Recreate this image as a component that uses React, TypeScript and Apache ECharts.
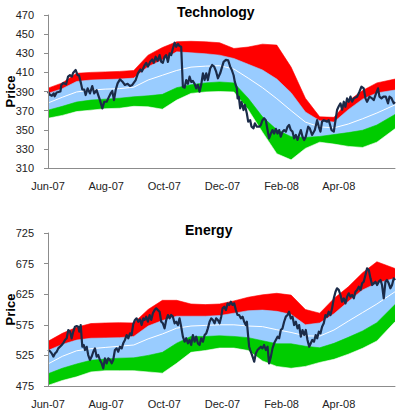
import React, { useEffect, useRef } from 'react';
import * as echarts from 'echarts';

// x positions are days since 1 Jun 2007
const xTickDays = [0, 61, 122, 183, 245, 305];
const xTickLabels = ['Jun-07', 'Aug-07', 'Oct-07', 'Dec-07', 'Feb-08', 'Apr-08'];
const techTicks = [310, 330, 350, 370, 390, 410, 430, 450, 470];
const energyTicks = [475, 525, 575, 625, 675, 725];

const bandDays = [0, 15, 30, 45, 60, 75, 90, 105, 120, 135, 150, 165, 180, 195, 210, 225, 240, 255, 270, 285, 300, 315, 330, 345, 364];

const techRedTop = [393.5, 399, 409, 410, 410.5, 411, 412, 428, 436, 442, 442.5, 442, 441, 435, 436.5, 439.5, 438.5, 415.5, 383, 363.5, 363, 380, 391, 399, 403];
const techBlueTop = [388, 393, 400.5, 402, 402.5, 403, 404, 416, 423, 431.5, 430.5, 429.5, 428, 424.5, 418.5, 412.5, 403, 388.7, 368.6, 359.5, 358, 371, 382, 388.5, 391.5];
const techMid = [378, 384, 389.5, 391.5, 392.5, 393, 394.5, 402, 407, 412, 415.5, 416.5, 417, 413.5, 404, 394, 382.5, 370, 358, 353, 352, 356, 361.5, 367.5, 376];
const techGreenTop = [370.5, 374.5, 379, 381, 382, 383, 384.5, 385.5, 387, 394, 397, 399, 400, 399, 383, 363.5, 350, 342.8, 342, 343, 345, 347, 349.5, 355, 366];
const techGreenBot = [362, 365, 369, 370.5, 372, 372.5, 374.5, 374, 371.5, 381, 388, 389.5, 390, 389.5, 371, 347.5, 325, 318.5, 330.5, 337, 335, 332.6, 331.5, 337, 351];

const energyRedTop = [548, 561, 571, 577, 578, 578.5, 578, 600, 615, 615, 609, 608, 609, 614, 620, 624, 626.5, 623.5, 600, 594, 618, 637, 660, 678, 667];
const energyBlueTop = [533, 543, 550, 553, 553.5, 554, 556, 573, 582, 589, 589, 589, 590, 594, 598, 599, 597, 592, 575, 578, 593, 613, 632, 643, 651];
const energyMid = [511, 523.5, 532.5, 536, 538, 540, 542, 552, 560, 569.5, 573, 574, 575, 575, 573, 572, 567, 562.5, 557, 556.5, 566.5, 581, 595, 609, 629];
const energyGreenTop = [495, 504, 511, 517, 519, 520.5, 521, 525, 530, 545, 556, 556, 557, 556, 554, 549, 544, 544, 540, 537.5, 544.7, 554.5, 565, 578.5, 608];
const energyGreenBot = [476, 484, 490, 498, 500, 500, 500, 498, 496, 512, 530, 533, 537, 537, 533, 516, 507, 504, 507, 513.5, 518.6, 527, 536.6, 548.5, 580];

const techPrice: [number, number][] = [
  [0, 389.8], [2, 386.5], [4, 385.5], [6, 388], [7, 385], [9, 389], [13, 390], [14, 396.8], [16, 399], [19, 397.5],
  [21, 405.5], [23, 407], [25, 405.5], [26.5, 409.7], [29, 412.5], [31, 407], [32.5, 407], [34.6, 398.5], [36, 392.2], [38, 392],
  [39.5, 386.3], [41.6, 393.3], [44, 388], [46.4, 395.7], [48.5, 388], [51, 391.5], [52.7, 386.3], [54.5, 381], [57, 372.4], [59, 379.3],
  [61.5, 379.3], [63.2, 382.8], [65.7, 388], [67.4, 390.5], [69.2, 381], [71, 391.5], [73, 398.5], [75.5, 402.7], [77.9, 400.5], [80.7, 396.8],
  [83.5, 398], [86, 395.7], [88.4, 396.8], [92, 402], [94.3, 409], [96.8, 413], [98.5, 411], [101.4, 417.7], [103, 420], [104.8, 416],
  [107.2, 421.2], [109.3, 423.6], [111, 420], [112.9, 426.4], [115, 422], [117.1, 428], [118.8, 421], [120.5, 420], [122.3, 426.4], [124, 428],
  [125.8, 421], [127.6, 430], [129.2, 428], [131, 435], [132.8, 441], [134.5, 436.8], [136.3, 439.7], [138, 437.5], [139.7, 436.8], [141.5, 395],
  [143.3, 394], [145, 402], [146.8, 398], [148.5, 405.5], [150.2, 400], [152, 401], [153.8, 398], [155.5, 393.3], [157.2, 397], [159, 389.8],
  [160.7, 397], [162.5, 409], [164.3, 402], [166, 409], [167.7, 402], [170.1, 414], [172.2, 417.7], [174.3, 416], [176.4, 410.7], [178.2, 403.8],
  [180.6, 409], [182.7, 416], [184.2, 421], [186.6, 423], [189, 422.5], [191.1, 416], [192.6, 413], [194.7, 407], [196, 400], [198.1, 393.3],
  [198.9, 382.8], [200.2, 384.5], [201.6, 372.4], [203, 379], [205.1, 370.6], [206.5, 376], [208.6, 367], [210, 358.5], [212.1, 360], [213.5, 353.2],
  [215.6, 351.5], [217, 356.7], [219.1, 353.2], [221.5, 353.2], [223.3, 355], [225, 360], [226.7, 362], [228.5, 360], [230.3, 349.7], [231.9, 341],
  [233.8, 346], [235.5, 349.7], [237.2, 346], [239, 351], [240.8, 346], [242.5, 349.7], [244.2, 342.7], [246, 348], [247.7, 349.7], [249.5, 348],
  [251.3, 353.2], [252.9, 355], [254.7, 349.7], [256.5, 348], [258.2, 341], [260, 344.5], [261.7, 339.3], [263.4, 344.5], [265.2, 349.7], [267, 342.7],
  [268.7, 339.3], [270.4, 342.7], [272.9, 353.2], [274.6, 351.5], [277, 344.5], [279.9, 349.7], [282.3, 360], [284.1, 353], [285.8, 348], [287.5, 358.5],
  [289.3, 360], [292.8, 358.5], [294.5, 360], [297.4, 349.7], [299.8, 348], [301.6, 360], [303.2, 370.6], [305, 374.5], [306.8, 377.6], [308.5, 371],
  [310.3, 379.3], [312, 374], [313.7, 382.8], [315.5, 379.3], [317.3, 384.6], [319, 379.3], [320.8, 382.8], [324.2, 384.6], [326.7, 389.8], [328.8, 395],
  [331.2, 393.3], [333, 382.8], [334.7, 379.3], [337.2, 384.6], [340, 382.8], [341.7, 381], [343.5, 386.3], [346.2, 393.3], [347.7, 384.6], [349.8, 382.8],
  [351.9, 384.6], [354.3, 384.6], [356.7, 377.6], [358.2, 384.6], [360.3, 383], [362.7, 377.6], [364, 379]
];

const energyPrice: [number, number][] = [
  [0, 534], [2, 532], [3.9, 528.3], [5.6, 523], [7.3, 528], [9.1, 531], [10.8, 536.5], [14.4, 542], [16, 545], [17.8, 550.2],
  [19.6, 553], [21.3, 566.5], [23.1, 564], [24.8, 552.8], [26.5, 564], [28.3, 571.9], [30.1, 573], [31.8, 571.9], [32.8, 563.8], [34.3, 574.6],
  [36, 539.2], [37.5, 542], [38.8, 533.8], [40.6, 539], [42.2, 525.6], [44, 517.5], [45.8, 523], [47.5, 531], [49.3, 536.5], [51, 523],
  [52.7, 525.6], [54.5, 517.5], [56.3, 512], [58, 503.8], [59.7, 520.2], [61.5, 512], [63.2, 520.2], [65, 517.5], [66.8, 512], [68.4, 517.5],
  [70.2, 533.8], [72, 536.5], [73.7, 531], [75.5, 539.2], [77.3, 536.5], [78.9, 544.7], [80.7, 550.2], [82.5, 558.3], [84.2, 553], [86, 561],
  [87.7, 558.3], [89.4, 576], [91.2, 582.8], [92.9, 585.5], [94.7, 580], [96.5, 584], [98.2, 574.6], [100, 585.5], [101.4, 583], [103, 588.3],
  [104.8, 580], [106.6, 591], [108.3, 583], [110, 593.7], [111.8, 599], [113.5, 601.9], [115.3, 599], [117.1, 596.4], [118.8, 580], [120.5, 577.4],
  [122.3, 569.2], [124, 582.8], [125.8, 591], [127.6, 585.5], [129.2, 591], [131, 588.3], [132.8, 577.4], [134.5, 580], [136.3, 574.6], [138, 585.5],
  [139.7, 572], [141.5, 555.6], [143.3, 547.4], [145, 553], [146.8, 544.7], [148.5, 550.2], [150.2, 542], [152, 558.3], [153.8, 547.4], [155.5, 555.6],
  [157.2, 544.7], [159, 542], [160.7, 553], [162.5, 547.4], [164.3, 558.3], [166, 561], [167.7, 569.2], [169.5, 580], [171.2, 585.5], [173, 582.8],
  [174.7, 577.4], [176.4, 585.5], [178.2, 582.8], [180, 577.4], [181.7, 588.3], [183.1, 601.9], [184.9, 604.6], [186.6, 599], [188.4, 610], [190.1, 607.4],
  [191.8, 612.8], [193.6, 607.4], [195.3, 610], [197.1, 599], [198.8, 591], [200.5, 591], [202.3, 585.5], [204.1, 588.3], [205.8, 580], [207.5, 574.6],
  [208.6, 580], [210, 555.6], [211, 539.2], [212.1, 533.8], [213.5, 528], [214.6, 522.9], [216.3, 514.7], [218, 528], [219.8, 533.8], [221.5, 536.5],
  [223.3, 539.2], [225, 536.5], [226.7, 542], [228.5, 533.8], [230.3, 539.2], [231.9, 512], [233.8, 523], [235.5, 536.5], [237.2, 544.7], [239, 550.2],
  [240.8, 555.6], [242.5, 553], [244.2, 566.5], [246, 569.2], [247.7, 580], [249.5, 588.3], [251.3, 591], [252.9, 596.4], [254.7, 585.5], [256.5, 588.3],
  [258.2, 574.6], [260, 580], [261.7, 569.2], [263.4, 574.6], [265.2, 555.6], [267, 566.5], [268.7, 558.3], [270.4, 566.5], [272.2, 550.2], [274, 539.2],
  [275.4, 544], [277.2, 550.2], [279, 547.4], [280.8, 558.3], [282.4, 553], [284.1, 563.8], [285.8, 561], [287.5, 571.9], [289.3, 577.4], [291, 591],
  [292.8, 588.3], [294.5, 596.4], [296.3, 591], [298, 601.9], [299.8, 618.2], [301.6, 629.1], [303.2, 634.6], [305, 632], [306.8, 623.7], [308.5, 612.8],
  [310.3, 618.2], [312, 610], [313.7, 621], [315.5, 626.4], [317.3, 621], [319, 623.7], [320.8, 618.2], [322.5, 629.1], [324.2, 632], [326, 637.3],
  [327.8, 632], [329.5, 642.7], [331.2, 645.5], [333, 656.3], [334.7, 667.3], [336.5, 664.6], [338.3, 650.9], [340, 640], [341.7, 642.7], [343.5, 645.5],
  [345.2, 640], [347, 645.5], [348.8, 648.2], [350.4, 640], [352.2, 618.2], [354, 645.5], [355.6, 648.2], [357.4, 642.7], [359.2, 634.6], [360.9, 640],
  [362.7, 650.9], [364, 648]
];

const FONT = 'Liberation Sans';
const AXIS_COLOR = '#8c8c8c';

// Bands: each boundary is an area filled down to the axis; later (lower) boundaries paint over earlier ones.
function buildSeries(idx: number, bot: number[], gTop: number[], bTop: number[], rTop: number[], mid: number[], price: [number, number][]) {
  const base = {
    type: 'line', xAxisIndex: idx, yAxisIndex: idx, symbol: 'none', silent: true,
    emphasis: { disabled: true },
  };
  const area = (arr: number[], color: string) => ({
    ...base,
    data: bandDays.map((d, i) => [d, arr[i]]),
    lineStyle: { width: 0.6, color },
    areaStyle: { color, opacity: 1, origin: 'start' },
  });
  return [
    area(rTop, '#FF0000'),
    area(bTop, '#99CCFF'),
    area(gTop, '#00CC00'),
    area(bot, '#FFFFFF'),
    { ...base, data: bandDays.map((d, i) => [d, mid[i]]), lineStyle: { width: 1, color: '#ffffff' }, z: 3 },
    { ...base, data: price, lineStyle: { width: 2.2, color: '#1B2B48', join: 'round' }, z: 4 },
  ];
}

function xAxis(idx: number) {
  return {
    type: 'value', gridIndex: idx, min: 0, max: 364, z: 10,
    axisLine: { show: true, onZero: false, lineStyle: { color: AXIS_COLOR, width: 1 } },
    axisTick: { show: false },
    splitLine: { show: false },
    axisLabel: { show: false },
  };
}

function yAxis(idx: number, ticks: number[]) {
  return {
    type: 'value', gridIndex: idx, min: ticks[0], max: ticks[ticks.length - 1], z: 10,
    axisLine: { show: true, onZero: false, lineStyle: { color: AXIS_COLOR, width: 1 } },
    axisTick: { show: true, length: 4, customValues: ticks, lineStyle: { color: AXIS_COLOR } },
    splitLine: { show: false },
    axisLabel: { customValues: ticks, margin: 14, fontSize: 11, fontFamily: FONT, color: '#222' },
  };
}

export default function App() {
  const ref = useRef<HTMLDivElement>(null);
  useEffect(() => {
    if (!ref.current) return;
    const chart = echarts.init(ref.current, undefined, { renderer: 'svg' });
    chart.setOption({
      animation: false,
      backgroundColor: '#ffffff',
      title: [
        { text: 'Technology', left: 172, top: 0, textStyle: { fontSize: 14, fontWeight: 'bold', fontFamily: FONT, color: '#000' } },
        { text: 'Energy', left: 180, top: 218, textStyle: { fontSize: 14, fontWeight: 'bold', fontFamily: FONT, color: '#000' } },
      ],
      grid: [
        { left: 48, top: 15, width: 347, height: 153, containLabel: false, outerBoundsMode: 'none' },
        { left: 48, top: 233, width: 347, height: 153, containLabel: false, outerBoundsMode: 'none' },
      ],
      xAxis: [xAxis(0), xAxis(1)],
      yAxis: [yAxis(0, techTicks), yAxis(1, energyTicks)],
      series: [
        ...buildSeries(0, techGreenBot, techGreenTop, techBlueTop, techRedTop, techMid, techPrice),
        ...buildSeries(1, energyGreenBot, energyGreenTop, energyBlueTop, energyRedTop, energyMid, energyPrice),
      ],
    });
    // x-axis month labels and the rotated "Price" names, placed through the axes' own scales
    const tickSets = [techTicks, energyTicks];
    const labels: any[] = [];
    [0, 1].forEach((g) => {
      const ticks = tickSets[g];
      xTickDays.forEach((d, i) => {
        const p = chart.convertToPixel({ xAxisIndex: g, yAxisIndex: g }, [d, ticks[0]]) as number[];
        labels.push({
          type: 'text', x: p[0], y: p[1] + 12, silent: true,
          style: { text: xTickLabels[i], fill: '#222', font: `11px "${FONT}"`, textAlign: 'center', textVerticalAlign: 'top' },
        });
      });
      const midVal = (ticks[0] + ticks[ticks.length - 1]) / 2;
      const pm = chart.convertToPixel({ xAxisIndex: g, yAxisIndex: g }, [0, midVal]) as number[];
      labels.push({
        type: 'text', x: 10, y: pm[1], rotation: Math.PI / 2, silent: true,
        style: { text: 'Price', fill: '#000', font: `bold 13px "${FONT}"`, textAlign: 'center', textVerticalAlign: 'middle' },
      });
    });
    chart.setOption({ graphic: labels });
    return () => chart.dispose();
  }, []);
  return <div ref={ref} style={{ position: 'fixed', left: 0, top: 0, width: 400, height: 414 }} />;
}
